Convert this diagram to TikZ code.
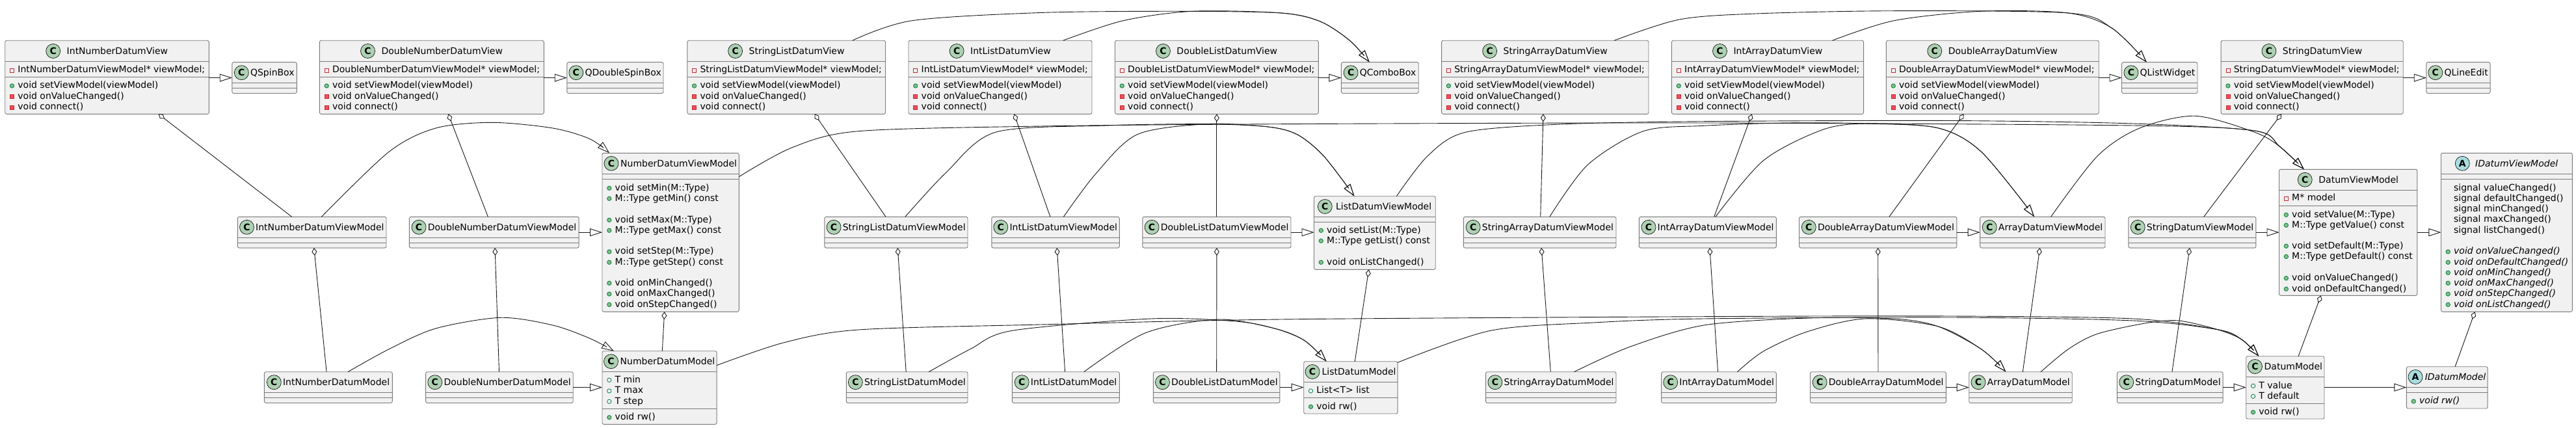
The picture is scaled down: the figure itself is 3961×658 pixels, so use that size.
\documentclass[tikz,border=0pt]{standalone}
\usepackage{fontspec}
\setmainfont{DejaVu Sans}
\usetikzlibrary{arrows.meta,calc}
\definecolor{boxfill}{HTML}{F1F1F1}
\definecolor{boxline}{HTML}{7A7A7A}
\definecolor{cfill}{HTML}{ADD1B2}
\definecolor{afill}{HTML}{A9DCDF}
\definecolor{privline}{HTML}{C82930}
\definecolor{privfill}{HTML}{F24D5C}
\definecolor{publine}{HTML}{038048}
\definecolor{pubfill}{HTML}{84BE84}
\definecolor{edgecol}{HTML}{181818}
\newcount\ndc
\tikzset{
  box/.style={draw=boxline, fill=boxfill, line width=0.9pt, rounded corners=2.5pt, inner sep=0pt, outer sep=0pt},
  sepline/.style={draw=boxline, line width=0.9pt},
  ttext/.style={inner sep=0pt, anchor=base, font=\fontsize{14}{16}\selectfont},
  mtext/.style={inner sep=0pt, anchor=base west, font=\fontsize{14}{16}\selectfont},
  badgeC/.style={circle, draw=edgecol, fill=cfill, minimum size=22pt, inner sep=0pt, line width=0.7pt, font=\fontsize{14}{14}\selectfont\bfseries},
  badgeA/.style={badgeC, fill=afill},
  ipf/.style={rectangle, draw=privline, minimum width=6pt, minimum height=6pt, inner sep=0pt, line width=0.8pt},
  ipm/.style={ipf, fill=privfill},
  iuf/.style={circle, draw=publine, minimum size=6.4pt, inner sep=0pt, line width=0.8pt},
  ium/.style={iuf, fill=pubfill},
  conn/.style={draw=edgecol, line width=0.9pt},
  inh/.style={conn, -{Triangle[open, length=19pt, width=12pt]}},
  agg/.style={conn, -{Diamond[open, length=12pt, width=8pt]}}
}
\newcommand\icpf[2]{\node[ipf] (i\the\ndc) at (#1+10.8,#2+1) {};}
\newcommand\icpm[2]{\node[ipm] (i\the\ndc) at (#1+10.8,#2+1) {};}
\newcommand\icuf[2]{\node[iuf] (i\the\ndc) at (#1+10.8,#2+1) {};}
\newcommand\icum[2]{\node[ium] (i\the\ndc) at (#1+10.8,#2+1) {};}
\newcommand\icno[2]{}
\newcommand\mrow[4]{\global\advance\ndc by 1 \csname ic#1\endcsname{#2}{#3}\node[mtext] (m\the\ndc) at (#2+19.5,#3+4.7) {#4};}
% [letter] name x1 y1 x2 y2 sep1 gap title
\newcommand\cls[9][C]{%
  \node[box, minimum width={#5-#3}, minimum height={#6-#4}, anchor=north west] (#2) at (#3,#4) {};
  \draw[sepline] (#3,#7) -- (#5,#7);
  \node[ttext] (#2-t) at ({(#3+#5)/2+(22+#8)/2},{(#4+#7)/2+5}) {#9};
  \node[badge#1] (#2-b) at ($(#2-t.base west)+({-(#8+11)},-5)$) {#1};
}
\newcommand\viewcls[5]{%
  \cls{#1}{#2}{62.3}{#3}{175.3}{94.7}{9.8}{#4}
  \draw[sepline] (#2,118.3) -- (#3,118.3);
  \mrow{pf}{#2}{107.3}{#5}
  \mrow{um}{#2}{131}{void setViewModel(viewModel)}
  \mrow{pm}{#2}{147.5}{void onValueChanged()}
  \mrow{pm}{#2}{164}{void connect()}
}
\newcommand\smallcls[5]{%
  \cls{#1}{#2}{#4}{#3}{#4+47.8}{#4+32}{2.5}{#5}
  \draw[sepline] (#2,#4+40) -- (#3,#4+40);
}
\begin{document}
\begin{tikzpicture}[x=1pt,y=-1pt]
\fill[white] (0,0) rectangle (3961,658);
\useasboundingbox (0,0) rectangle (3961,658);

% ---------- top row: views
\viewcls{V1}{7.7}{321.3}{IntNumberDatumView}{IntNumberDatumViewModel* viewModel;}
\viewcls{V2}{491.4}{836.3}{DoubleNumberDatumView}{DoubleNumberDatumViewModel* viewModel;}
\viewcls{V3}{1056.8}{1361.5}{StringListDatumView}{StringListDatumViewModel* viewModel;}
\viewcls{V4}{1397}{1679}{IntListDatumView}{IntListDatumViewModel* viewModel;}
\viewcls{V5}{1714.5}{2027.3}{DoubleListDatumView}{DoubleListDatumViewModel* viewModel;}
\viewcls{V6}{2216.6}{2535}{StringArrayDatumView}{StringArrayDatumViewModel* viewModel;}
\viewcls{V7}{2570.4}{2865.6}{IntArrayDatumView}{IntArrayDatumViewModel* viewModel;}
\viewcls{V8}{2900.4}{3227.2}{DoubleArrayDatumView}{DoubleArrayDatumViewModel* viewModel;}
\viewcls{V9}{3415.1}{3695.2}{StringDatumView}{StringDatumViewModel* viewModel;}

% widgets
\smallcls{W1}{356.8}{456.4}{95.7}{QSpinBox}
\smallcls{W2}{871.8}{1020}{95.7}{QDoubleSpinBox}
\smallcls{W3}{2062.4}{2181.2}{95.7}{QComboBox}
\smallcls{W4}{3262.5}{3379}{95.7}{QListWidget}
\smallcls{W5}{3730.8}{3829}{95.7}{QLineEdit}

% ---------- middle row: view models
\smallcls{M1}{365.3}{594}{333.3}{IntNumberDatumViewModel}
\smallcls{M2}{629.4}{890.1}{333.3}{DoubleNumberDatumViewModel}
\smallcls{M4}{1267.9}{1488}{333.3}{StringListDatumViewModel}
\smallcls{M5}{1524.8}{1721.3}{333.3}{IntListDatumViewModel}
\smallcls{M6}{1756.8}{1985}{333.3}{DoubleListDatumViewModel}
\smallcls{M8}{2250.3}{2485}{333.3}{StringArrayDatumViewModel}
\smallcls{M9}{2520.4}{2731.3}{333.3}{IntArrayDatumViewModel}
\smallcls{M10}{2766.5}{3008.9}{333.3}{DoubleArrayDatumViewModel}
\smallcls{ADVM}{3044.6}{3237}{333.3}{ArrayDatumViewModel}
\smallcls{M12}{3272.8}{3468.9}{333.3}{StringDatumViewModel}

\cls{NDVM}{926}{235.3}{1136.3}{479.3}{267.3}{3}{NumberDatumViewModel}
\draw[sepline] (926,275.3) -- (1136.3,275.3);
\mrow{um}{926}{288.3}{void setMin(M::Type)}
\mrow{um}{926}{304.3}{M::Type getMin() const}
\mrow{um}{926}{337.3}{void setMax(M::Type)}
\mrow{um}{926}{353.3}{M::Type getMax() const}
\mrow{um}{926}{386}{void setStep(M::Type)}
\mrow{um}{926}{402.3}{M::Type getStep() const}
\mrow{um}{926}{434.3}{void onMinChanged()}
\mrow{um}{926}{451}{void onMaxChanged()}
\mrow{um}{926}{467.3}{void onStepChanged()}

\cls{LDVM}{2020.5}{301.7}{2207.2}{414.3}{333.3}{5.6}{ListDatumViewModel}
\draw[sepline] (2020.5,341.3) -- (2207.2,341.3);
\mrow{um}{2020.5}{353.3}{void setList(M::Type)}
\mrow{um}{2020.5}{369.3}{M::Type getList() const}
\mrow{um}{2020.5}{402.3}{void onListChanged()}

\cls{DVM}{3504.5}{260.3}{3716.9}{454.3}{292.3}{10}{DatumViewModel}
\draw[sepline] (3504.5,316.3) -- (3716.9,316.3);
\mrow{pf}{3504.5}{304}{M* model}
\mrow{um}{3504.5}{329.3}{void setValue(M::Type)}
\mrow{um}{3504.5}{345.3}{M::Type getValue() const}
\mrow{um}{3504.5}{377.3}{void setDefault(M::Type)}
\mrow{um}{3504.5}{393.5}{M::Type getDefault() const}
\mrow{um}{3504.5}{426.7}{void onValueChanged()}
\mrow{um}{3504.5}{443.3}{void onDefaultChanged()}

\cls[A]{IDVM}{3753.4}{235.3}{3955.3}{479.3}{267.3}{8.7}{\itshape IDatumViewModel}
\draw[sepline] (3753.4,275.3) -- (3955.3,275.3);
\mrow{no}{3753.4}{288.3}{signal valueChanged()}
\mrow{no}{3753.4}{304.3}{signal defaultChanged()}
\mrow{no}{3753.4}{320.3}{signal minChanged()}
\mrow{no}{3753.4}{336.8}{signal maxChanged()}
\mrow{no}{3753.4}{353.3}{signal listChanged()}
\mrow{um}{3753.4}{386}{\itshape void onValueChanged()}
\mrow{um}{3753.4}{402.3}{\itshape void onDefaultChanged()}
\mrow{um}{3753.4}{418.3}{\itshape void onMinChanged()}
\mrow{um}{3753.4}{434.3}{\itshape void onMaxChanged()}
\mrow{um}{3753.4}{451}{\itshape void onStepChanged()}
\mrow{um}{3753.4}{467.3}{\itshape void onListChanged()}

% ---------- bottom row: models
\smallcls{B1}{406.4}{603.3}{571.7}{IntNumberDatumModel}
\smallcls{B2}{654.6}{881.2}{571.7}{DoubleNumberDatumModel}
\smallcls{B4}{1301.3}{1488}{571.7}{StringListDatumModel}
\smallcls{B5}{1556.4}{1721.3}{571.7}{IntListDatumModel}
\smallcls{B6}{1773.4}{1967.9}{571.7}{DoubleListDatumModel}
\smallcls{B8}{2284.6}{2485}{571.7}{StringArrayDatumModel}
\smallcls{B9}{2554.6}{2731.3}{571.7}{IntArrayDatumModel}
\smallcls{B10}{2783.5}{2992.4}{571.7}{DoubleArrayDatumModel}
\smallcls{ADM}{3027.7}{3186.2}{571.7}{ArrayDatumModel}
\smallcls{B12}{3255.4}{3418.1}{571.7}{StringDatumModel}

\cls{NDM}{926}{539.7}{1102.1}{652.3}{571.7}{3}{NumberDatumModel}
\draw[sepline] (926,628.7) -- (1102.1,628.7);
\mrow{uf}{926}{583.3}{T min}
\mrow{uf}{926}{600}{T max}
\mrow{uf}{926}{616.3}{T step}
\mrow{um}{926}{640.7}{void rw()}

\cls{LDM}{2004.7}{555.7}{2149.1}{636}{587.3}{3.4}{ListDatumModel}
\draw[sepline] (2004.7,611.3) -- (2149.1,611.3);
\mrow{uf}{2004.7}{600}{List<T> list}
\mrow{um}{2004.7}{624.3}{void rw()}

\cls{DM}{3453.7}{547.7}{3574}{644}{579.3}{3}{DatumModel}
\draw[sepline] (3453.7,620.7) -- (3574,620.7);
\mrow{uf}{3453.7}{592.3}{T value}
\mrow{uf}{3453.7}{608.3}{T default}
\mrow{um}{3453.7}{632.7}{void rw()}

\cls[A]{IDM}{3700.4}{563.7}{3825.1}{628}{595.3}{3.5}{\itshape IDatumModel}
\draw[sepline] (3700.4,603.3) -- (3825.1,603.3);
\mrow{um}{3700.4}{616}{\itshape void rw()}

% ---------- straight inheritance
\draw[inh] (W1.west -| V1.east) -- (W1.west);
\draw[inh] (W2.west -| V2.east) -- (W2.west);
\draw[inh] (W3.west -| V5.east) -- (W3.west);
\draw[inh] (W4.west -| V8.east) -- (W4.west);
\draw[inh] (W5.west -| V9.east) -- (W5.west);
\draw[inh] (M2.east) -- (M2.east -| NDVM.west);
\draw[inh] (M6.east) -- (M6.east -| LDVM.west);
\draw[inh] (M10.east) -- (ADVM.west);
\draw[inh] (M12.east) -- (M12.east -| DVM.west);
\draw[inh] (M12.east -| DVM.east) -- (M12.east -| IDVM.west);
\draw[inh] (B2.east) -- (B2.east -| NDM.west);
\draw[inh] (B6.east) -- (B6.east -| LDM.west);
\draw[inh] (B10.east) -- (ADM.west);
\draw[inh] (B12.east) -- (B12.east -| DM.west);
\draw[inh] (B12.east -| DM.east) -- (B12.east -| IDM.west);

% ---------- curved inheritance, top
\draw[inh] plot[smooth] coordinates {([xshift=101.5pt]V3.north) (1402.6,31.7) (1600,19.5) (1812.8,17.3) (1970,20) (2030,33) (2075,62) ([xshift=-16pt]W3.north)};
\draw[inh] plot[smooth] coordinates {([xshift=96.6pt]V4.north) (1727.3,31.7) (1834.1,17.3) (1970,20) (2030,33) (2075,62) ([xshift=-16pt]W3.north)};
\draw[inh] plot[smooth] coordinates {([xshift=106.2pt]V6.north) (2582.4,30) (2700,21) (2912.5,16.7) (3180,20) (3247,43) ([xshift=-20pt]W4.north)};
\draw[inh] plot[smooth] coordinates {([xshift=99.4pt]V7.north) (2912.5,31.7) (3046.4,17.3) (3180,20) (3247,43) ([xshift=-20pt]W4.north)};

% ---------- curved inheritance, middle
\draw[inh] plot[smooth] coordinates {([xshift=14.75pt]M1.north) (598.2,233.3) (670,197) (756.8,188.3) (850,197) (906.4,213.3) ([xshift=-94pt]NDVM.north)};
\draw[inh] plot[smooth] coordinates {([yshift=-36.4pt]NDVM.north east) (1218.3,226.7) (1320,201.7) (1600,194) (1970,190.7) (2620,189) (3280,193) (3466.8,201) (3505,225) ([xshift=-67.9pt]DVM.north)};
\draw[inh] plot[smooth] coordinates {([xshift=33.55pt]LDVM.north) (2195,240) (2253.4,203.3) (2400,191) (2620,186.7) (3000,185.5) (3280,190) (3466.8,201) (3505,225) ([xshift=-67.9pt]DVM.north)};
\draw[inh] plot[smooth] coordinates {([xshift=13.95pt]M4.north) (1455,265) (1530.7,203.3) (1700,193) (1855.5,190.7) (1950,195) (1995,207) (2035.5,240) ([xshift=-31.35pt]LDVM.north)};
\draw[inh] plot[smooth] coordinates {([xshift=12.35pt]M5.north) (1685,267) (1748.7,206.7) (1855.5,190.7) (1950,195) (1995,207) (2035.5,240) ([xshift=-31.35pt]LDVM.north)};
\draw[inh] plot[smooth] coordinates {([xshift=15.15pt]M8.north) (2441.4,253.3) (2526.8,201.7) (2620,193.3) (2750,189) (2867.9,190) (2979.5,196.7) (3046.4,233.3) ([xshift=-12.7pt]ADVM.north)};
\draw[inh] plot[smooth] coordinates {([xshift=12.05pt]M9.north) (2711.6,246.7) (2800.9,200) (2867.9,190) (2979.5,196.7) (3046.4,233.3) ([xshift=-12.7pt]ADVM.north)};
\draw[inh] plot[smooth] coordinates {([xshift=12.8pt]ADVM.north) (3225,240) (3290,197) (3375.5,178.3) (3466.8,203.3) (3505,225) ([xshift=-67.9pt]DVM.north)};

% ---------- curved inheritance, bottom
\draw[inh] plot[smooth] coordinates {([xshift=30.15pt]B1.north) (598.2,536.7) (670,505) (769.6,488.3) (850,500) (906.4,520) ([xshift=-70.05pt]NDM.north)};
\draw[inh] plot[smooth] coordinates {([yshift=-22pt]NDM.north east) (1205.5,526.7) (1320,507) (1600,499) (1970,491) (2620,486.7) (3000,486) (3280,490) (3410,506.7) (3447,522) ([xshift=-40.55pt]DM.north)};
\draw[inh] plot[smooth] coordinates {([xshift=33.55pt]B4.north) (1492,536.7) (1556.4,508.3) (1770,490) (1900,494) (1960,505) (2005.5,523.3) ([xshift=-37.2pt]LDM.north)};
\draw[inh] plot[smooth] coordinates {([xshift=27.75pt]B5.north) (1761.5,511.7) (1872.6,491) (1960,505) (2005.5,523.3) ([xshift=-37.2pt]LDM.north)};
\draw[inh] plot[smooth] coordinates {([yshift=-1.6pt]LDM.north east) (2291.8,508.3) (2450,496) (2620,490) (3000,488) (3280,493) (3410,506.7) (3447,522) ([xshift=-40.55pt]DM.north)};
\draw[inh] plot[smooth] coordinates {([xshift=35.6pt]B8.north) (2505.9,533.3) (2620,500) (2780,489) (2912.5,490) (2979.5,501.7) (3046.4,536.7) ([xshift=-22.55pt]ADM.north)};
\draw[inh] plot[smooth] coordinates {([xshift=28.45pt]B9.north) (2711.6,540) (2778.6,510) (2867.9,490) (2979.5,501.7) (3046.4,536.7) ([xshift=-22.55pt]ADM.north)};
\draw[inh] plot[smooth] coordinates {([xshift=31.05pt]ADM.north) (3180.4,536.7) (3225,513.3) (3300,496.7) (3350,493) (3410,506.7) (3447,522) ([xshift=-40.55pt]DM.north)};

% ---------- aggregation
\draw[agg] ([xshift=-30.95pt]M1.north) -- ([xshift=79.1pt]V1.south);
\draw[agg] ([xshift=-9.35pt]M2.north) -- ([xshift=25.45pt]V2.south);
\draw[agg] ([xshift=-15.95pt]M4.north) -- ([xshift=43.35pt]V3.south);
\draw[agg] ([xshift=-8.15pt]M5.north) -- ([xshift=21.4pt]V4.south);
\draw[agg] (M6.north) -- (V5.south);
\draw[agg] ([xshift=1.05pt]M8.north) -- ([xshift=-2.8pt]V6.south);
\draw[agg] ([xshift=9.85pt]M9.north) -- ([xshift=-24.2pt]V7.south);
\draw[agg] ([xshift=17.2pt]M10.north) -- ([xshift=-44.2pt]V8.south);
\draw[agg] ([xshift=17.75pt]M12.north) -- ([xshift=-47.15pt]V9.south);
\draw[agg] ([xshift=-2.75pt]B1.north) -- ([xshift=3.15pt]M1.south);
\draw[agg] ([xshift=-0.4pt]B2.north) -- ([xshift=1.35pt]M2.south);
\draw[agg] ([xshift=4.25pt]NDM.north) -- ([xshift=-9.45pt]NDVM.south);
\draw[agg] ([xshift=-1.45pt]B4.north) -- ([xshift=2.35pt]M4.south);
\draw[agg] ([xshift=-1.25pt]B5.north) -- ([xshift=2.15pt]M5.south);
\draw[agg] (B6.north) -- (M6.south);
\draw[agg] ([xshift=6.4pt]LDM.north) -- ([xshift=-9.15pt]LDVM.south);
\draw[agg] ([xshift=-0.5pt]B8.north) -- ([xshift=2.55pt]M8.south);
\draw[agg] ([xshift=-1.45pt]B9.north) -- ([xshift=3.15pt]M9.south);
\draw[agg] (B10.north) -- (M10.south);
\draw[agg] ([xshift=3.35pt]ADM.north) -- ([xshift=-4.2pt]ADVM.south);
\draw[agg] ([xshift=3.15pt]B12.north) -- ([xshift=-3.95pt]M12.south);
\draw[agg] ([xshift=20.25pt]DM.north) -- ([xshift=-41.9pt]DVM.south);
\draw[agg] ([xshift=12.35pt]IDM.north) -- ([xshift=-48.85pt]IDVM.south);
\end{tikzpicture}
\end{document}
